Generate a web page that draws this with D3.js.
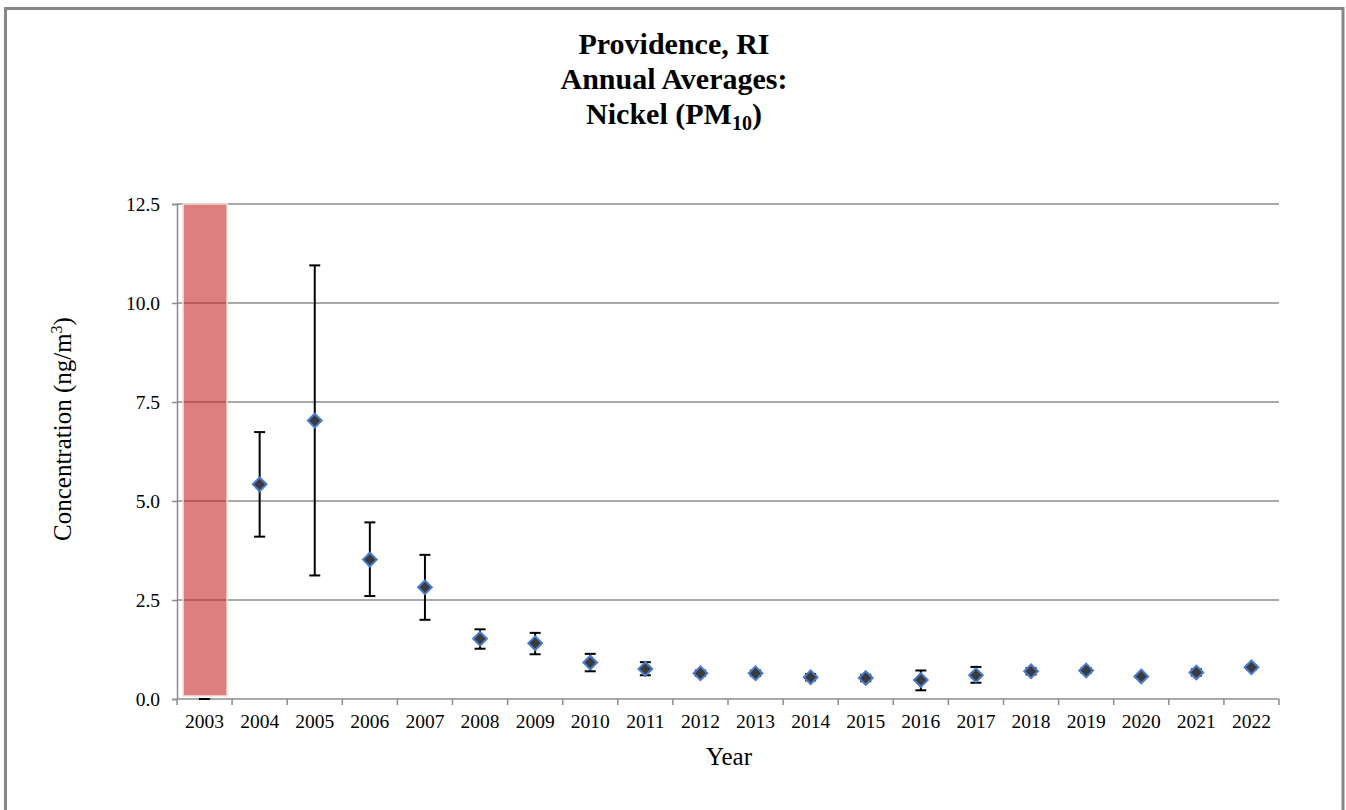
<!DOCTYPE html>
<html>
<head>
<meta charset="utf-8">
<script src="https://cdn.jsdelivr.net/npm/d3@7"></script>
<style>
  html, body { margin: 0; padding: 0; background: #fff; }
  svg { display: block; font-family: "Liberation Serif", "Times New Roman", serif; }
</style>
</head>
<body>
<svg id="chart" width="1346" height="810"></svg>
<script>
// Annual average nickel (PM10) concentrations, ng/m3, with 95% confidence bounds
const years = ["2003","2004","2005","2006","2007","2008","2009","2010","2011","2012",
               "2013","2014","2015","2016","2017","2018","2019","2020","2021","2022"];
const means = [0, 5.42, 7.03, 3.52, 2.82, 1.52, 1.41, 0.92, 0.76, 0.65,
               0.65, 0.55, 0.53, 0.48, 0.60, 0.70, 0.72, 0.57, 0.67, 0.80];
const lowerBounds = [0, 4.10, 3.12, 2.60, 2.00, 1.27, 1.13, 0.70, 0.60, 0.58,
                     0.58, 0.47, 0.45, 0.22, 0.41, 0.62, 0.66, 0.54, 0.59, 0.75];
const upperBounds = [0, 6.74, 10.95, 4.46, 3.64, 1.76, 1.67, 1.14, 0.93, 0.72,
                     0.72, 0.63, 0.61, 0.72, 0.81, 0.78, 0.78, 0.60, 0.75, 0.85];
// Years flagged as incomplete (shaded column)
const flaggedYears = ["2003"];
const yTicks = [0, 2.5, 5.0, 7.5, 10.0, 12.5];
const titleLines = ["Providence, RI", "Annual Averages:"];

const rows = years.map((yr, i) => ({ yr, mean: means[i], lo: lowerBounds[i], hi: upperBounds[i] }));

const svg = d3.select("#chart");
const plotLeft = 177, plotRight = 1279, plotTop = 204, plotBottom = 699;

const x = d3.scaleBand().domain(years).range([plotLeft, plotRight]);
const y = d3.scaleLinear().domain([0, 12.5]).range([plotBottom, plotTop]);

// outer frame
svg.append("rect")
  .attr("x", 5.5).attr("y", 8.5).attr("width", 1337.5).attr("height", 820)
  .attr("fill", "#fff").attr("stroke", "#878787").attr("stroke-width", 3);

// title
const title = svg.append("text")
  .attr("text-anchor", "middle").attr("font-weight", "bold").attr("font-size", 30)
  .attr("fill", "#000");
titleLines.forEach((t, i) => {
  title.append("tspan").attr("x", 674).attr("y", 54 + i * 35).text(t);
});
const t3 = title.append("tspan").attr("x", 674).attr("y", 124);
t3.append("tspan").text("Nickel (PM");
t3.append("tspan").attr("font-size", 20).attr("dy", 6).text("10");
t3.append("tspan").attr("dy", -6).text(")");

// horizontal gridlines
svg.append("g").selectAll("line").data(yTicks.filter(d => d > 0)).join("line")
  .attr("x1", plotLeft).attr("x2", plotRight)
  .attr("y1", d => y(d)).attr("y2", d => y(d))
  .attr("stroke", "#8c8c8c").attr("stroke-width", 1.5);

// y axis
const yAxis = svg.append("g").attr("transform", `translate(${plotLeft},0)`)
  .call(d3.axisLeft(y).tickValues(yTicks).tickFormat(d3.format(".1f")).tickSize(5).tickPadding(12));
yAxis.select(".domain").attr("stroke", "#8c8c8c").attr("stroke-width", 1.5);
yAxis.selectAll(".tick line").attr("stroke", "#8c8c8c").attr("stroke-width", 1.5);
yAxis.selectAll(".tick text").attr("font-size", 19.5).attr("fill", "#000")
  .attr("font-family", "Liberation Serif, Times New Roman, serif");

// x axis with ticks on category boundaries
const xAxisG = svg.append("g").attr("transform", `translate(0,${plotBottom})`);
xAxisG.append("line").attr("x1", plotLeft).attr("x2", plotRight).attr("y1", 0).attr("y2", 0)
  .attr("stroke", "#8c8c8c").attr("stroke-width", 1.5);
const bounds = years.map(d => x(d)).concat([plotRight]);
xAxisG.selectAll("line.tk").data(bounds).join("line").attr("class", "tk")
  .attr("x1", d => d).attr("x2", d => d).attr("y1", 0).attr("y2", 6)
  .attr("stroke", "#8c8c8c").attr("stroke-width", 1.5);
xAxisG.selectAll("text").data(years).join("text")
  .attr("x", d => x(d) + x.bandwidth() / 2).attr("y", 29)
  .attr("text-anchor", "middle").attr("font-size", 19.5).attr("fill", "#000")
  .text(d => d);

// axis titles
svg.append("text").attr("x", 729).attr("y", 765).attr("text-anchor", "middle")
  .attr("font-size", 25).text("Year");
const yl = svg.append("text").attr("transform", "translate(71,429) rotate(-90)")
  .attr("text-anchor", "middle").attr("font-size", 25);
yl.append("tspan").text("Concentration (ng/m");
yl.append("tspan").attr("font-size", 16).attr("dy", -9).text("3");
yl.append("tspan").attr("dy", 9).text(")");

// shaded column for flagged years
svg.append("g").selectAll("rect").data(flaggedYears).join("rect")
  .attr("x", d => x(d) + 6).attr("width", x.bandwidth() - 11)
  .attr("y", y(12.5)).attr("height", y(0) - y(12.5) - 3)
  .attr("fill", "rgb(200,40,40)").attr("fill-opacity", 0.6)
  .attr("stroke", "#f6e6dc").attr("stroke-width", 1.5);

// error bars
const cap = 5.5;
const eb = svg.append("g").attr("stroke", "#000").attr("stroke-width", 2);
rows.forEach(r => {
  const cx = x(r.yr) + x.bandwidth() / 2;
  eb.append("line").attr("x1", cx).attr("x2", cx).attr("y1", y(r.lo)).attr("y2", y(r.hi));
  eb.append("line").attr("x1", cx - cap).attr("x2", cx + cap).attr("y1", y(r.hi)).attr("y2", y(r.hi));
  eb.append("line").attr("x1", cx - cap).attr("x2", cx + cap).attr("y1", y(r.lo)).attr("y2", y(r.lo));
});

// diamond markers
const diamond = d3.symbol().type(d3.symbolDiamond2).size(120);
svg.append("g").selectAll("path")
  .data(rows.filter(r => !flaggedYears.includes(r.yr)))
  .join("path")
  .attr("transform", r => `translate(${x(r.yr) + x.bandwidth() / 2},${y(r.mean)})`)
  .attr("d", diamond)
  .attr("fill", "#3b3b3b").attr("stroke", "#4a7bd0").attr("stroke-width", 2);
</script>
</body>
</html>
